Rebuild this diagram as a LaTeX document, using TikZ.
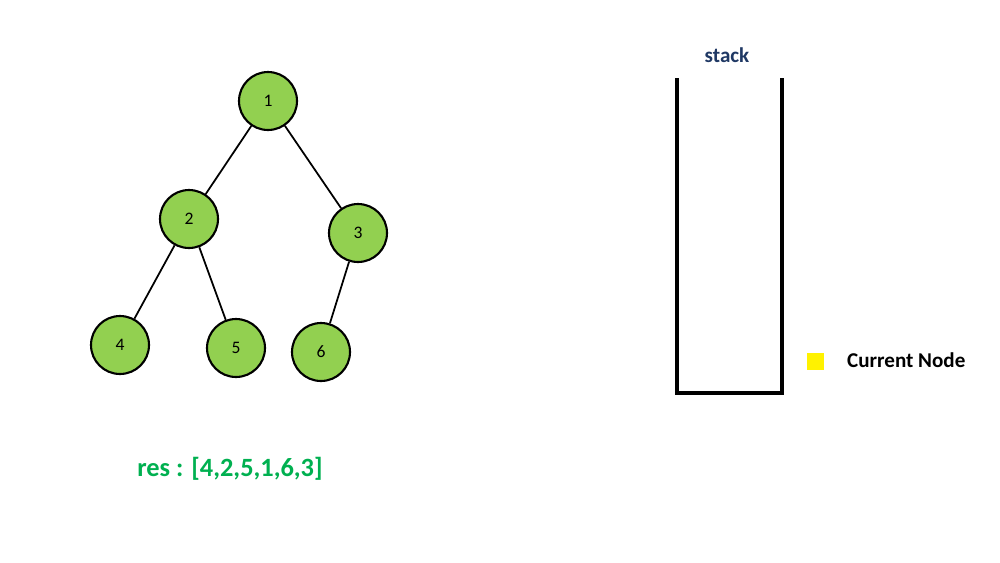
\documentclass[tikz,border=0pt]{standalone}
\usepackage{fontspec}
\setmainfont{Carlito}
\definecolor{ngreen}{HTML}{92D050}
\definecolor{resgreen}{HTML}{00B050}
\definecolor{stackblue}{HTML}{1F3864}
\begin{document}
\begin{tikzpicture}[x=0.02cm,y=-0.02cm,
  tn/.style={circle,draw,line width=1.2pt,fill=ngreen,minimum size=1.16cm,inner sep=0pt,font=\fontsize{10}{12}\selectfont},
  edge/.style={line width=1pt}]
\useasboundingbox (0,0) rectangle (1000,562);
\node[tn] (n1) at (268,101) {1};
\node[tn] (n2) at (189,219) {2};
\node[tn] (n3) at (358,233) {3};
\node[tn] (n4) at (120,345) {4};
\node[tn] (n5) at (236,348) {5};
\node[tn] (n6) at (321,352) {6};
\draw[edge] (n1)--(n2); \draw[edge] (n1)--(n3);
\draw[edge] (n2)--(n4); \draw[edge] (n2)--(n5);
\draw[edge] (n3)--(n6);
\coordinate (s1) at (677,78); \coordinate (s2) at (677,393);
\coordinate (s3) at (782,393); \coordinate (s4) at (782,78);
\draw[line width=1.8pt] (s1)--(s2)--(s3)--(s4);
\node[font=\bfseries\fontsize{12}{14}\selectfont,text=stackblue] (st) at (727,55) {stack};
\node[fill=yellow,minimum size=0.34cm,inner sep=0pt] (ys) at (815,361) {};
\node[font=\bfseries\fontsize{12}{14}\selectfont,anchor=west] (cn) at (841,360) {Current Node};
\node[font=\bfseries\fontsize{15}{18}\selectfont,text=resgreen] (res) at (230,469) {res : [4,2,5,1,6,3]};
\end{tikzpicture}
\end{document}
